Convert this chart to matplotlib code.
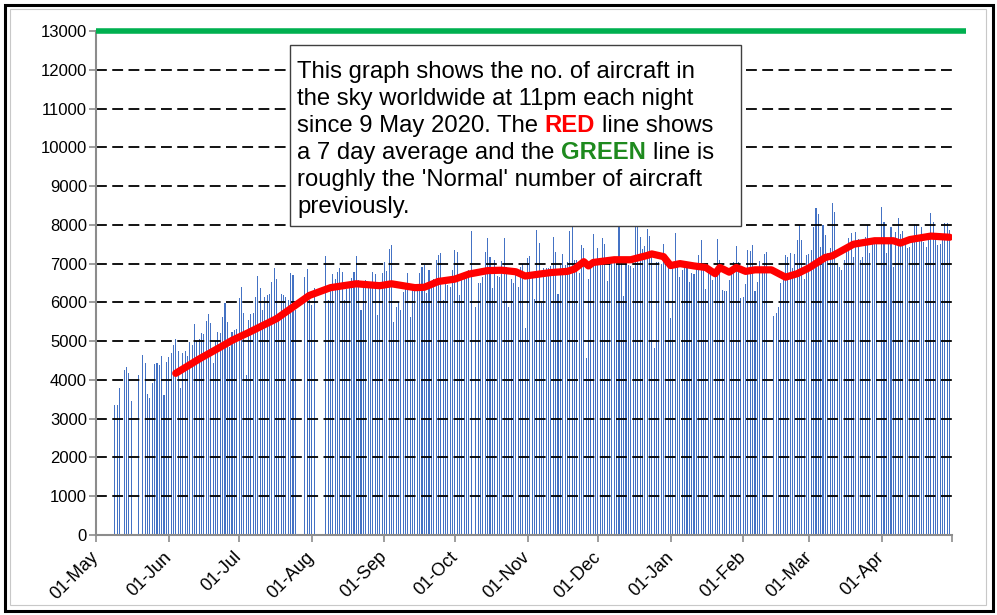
import numpy as np
import pandas as pd
import matplotlib
matplotlib.use('Agg')
import matplotlib.pyplot as plt
from matplotlib.patches import Rectangle

plt.rcParams['font.family'] = ['Liberation Sans', 'DejaVu Sans']

nan = np.nan

# aircraft in the sky at 11pm, one value per day (nan = no reading)
may = [3350, 3350, 3800, nan, 4250, 4330, 4180, 3450, nan, nan, 4130, nan, 4640, 4440, 3640,
       3530, 3920, 4400, 4440, 4390, 4620, 3610, 4460]  # from 9 May
jun = [4590, 4690, 4900, 5050, 4750, 3790, 4690, 4750, 4620, 4980, 4900, 5440, 5000, 5050, 5200,
       5190, 5520, 5700, 5470, 4440, 5000, 5240, 5200, 5620, 5980, 5500, 4850, 5240, 5290, 5310]
jul = [6110, 6400, 5730, 4130, 5550, 5700, 5730, 6140, 6680, 6370, 5800, 6140, 6190, 6220, 6530,
       6890, 6600, 5520, 6220, 6190, 6140, 6060, 6760, 6700, 5800, nan, nan, nan, 6650, 6860, 6060]
aug = [5930, 6370, nan, nan, nan, nan, 7200, 6060, 6420, 6730, 6600, 6780, 6890, 6780, 6060,
       6340, 6370, 6630, 6780, 7200, 6570, 5800, 6370, 6570, 6500, 6530, 6780, 6730, 5670, 6530, 6760]
sep = [7040, 6800, 7380, 7480, 5490, 5880, 6010, 5800, 6270, 6500, 6760, 5620, 6340, 6340, 6400,
       6760, 6910, 6960, 6240, 6830, 6400, 6600, 7090, 7220, 7270, 6060, 6500, 6450, 6400, 6830]
oct_ = [7350, 7300, 6190, 6580, 6630, 6650, 6830, 7840, nan, 5880, 6500, 6500, 6650, 7300, 7660,
        7170, 6370, 7090, 6680, 6650, 7070, 7660, 6900, 5880, 6600, 6500, 6700, 6400, 6900, 6990, 5340]
nov = [7140, 7200, 6760, 6100, 7870, 7530, 5980, 6890, 6890, 6890, 6950, 7690, 7300, 6220, 6960,
       7250, 6960, 7040, 7840, 7940, 7090, 7090, 6760, 7480, 7400, 4570, 6600, 7040, 7760, 7040]
dec = [7400, 7040, 7660, 7500, 6550, 7040, 7040, 7090, 7170, 7940, 7170, 6160, 7040, 6960, 6930,
       6890, 7940, 7940, 7690, 7380, 7450, 7890, 7710, 7200, 4820, 7040, 7040, 7000, 7500, 7150, 6960]
jan = [5600, 7040, 7790, 6910, 6650, 6830, 6960, 7040, 6530, 6760, 6740, 6960, 7220, 7610, 6960,
       6340, 6830, 6760, 6580, 6650, 7630, 7090, 6320, 6300, 6300, 6580, 6830, 7040, 7450, 7040, 6110]
feb = [6130, 6470, 7350, 7330, 7480, 6290, 6530, 7070, 6830, 7250, 7300, nan, nan, 5650,
       5720, 5880, 6500, 6720, 7220, 7180, 7270, 6890, 7250, 7610, 8000, 7610, 6600, 7220]
mar = [7250, 7350, 7940, 8430, 8280, 7430, 8000, 7740, 7270, 7400, 8560, 8330, 6960, 6900, 6830,
       7090, 7300, 7660, 7790, 7170, 7820, 7640, 7090, 7170, 7680, 8000, 7270, 7500, 7500, 7500, nan]
apr = [8460, 8070, 7270, 7640, 7940, 6910, 7820, 8170, 7760, 7840, 7500, 7400, 7430, 7600, 8030,
       8000, 7600, 7940, 7560, 7430, 7600, 8300, 8070, 7600, 7470, 7500, 7600, 8050, 8050, 7870]

# 7 day average (red line)
avg_dates = ['2020-06-04', '2020-06-14', '2020-06-24', '2020-06-28', '2020-07-05', '2020-07-17',
             '2020-07-31', '2020-08-09', '2020-08-20', '2020-08-30', '2020-09-04', '2020-09-14',
             '2020-09-18', '2020-09-24', '2020-10-01', '2020-10-07', '2020-10-15', '2020-10-21',
             '2020-10-27', '2020-10-31', '2020-11-06', '2020-11-11', '2020-11-18', '2020-11-21',
             '2020-11-25', '2020-11-27', '2020-11-29', '2020-12-08', '2020-12-15', '2020-12-22',
             '2020-12-24', '2020-12-29', '2021-01-01', '2021-01-05', '2021-01-11', '2021-01-16',
             '2021-01-20', '2021-01-22', '2021-01-26', '2021-01-29', '2021-02-02', '2021-02-06',
             '2021-02-13', '2021-02-19', '2021-02-24', '2021-03-01', '2021-03-08', '2021-03-11',
             '2021-03-20', '2021-03-29', '2021-04-06', '2021-04-09', '2021-04-13', '2021-04-22',
             '2021-04-30']
avg_values = [4170, 4540, 4880, 5020, 5220, 5580, 6180, 6380, 6480, 6430, 6480, 6380,
              6390, 6540, 6600, 6730, 6820, 6830, 6790, 6680, 6730, 6770, 6800, 6860,
              7050, 6940, 7030, 7100, 7100, 7210, 7250, 7180, 6950, 7000, 6940, 6900,
              6740, 6900, 6780, 6900, 6800, 6840, 6840, 6650, 6740, 6890, 7160, 7200,
              7500, 7590, 7590, 7530, 7620, 7710, 7680]

# roughly the 'normal' number of aircraft (green line)
normal_dates = ['2020-05-01', '2021-05-07']
normal_values = [13000, 13000]

month_starts = pd.date_range('2020-05-01', '2021-05-01', freq='MS')
tick_labels = [d.strftime('%d-%b') for d in month_starts[:-1]] + ['']

days = pd.date_range('2020-05-09', '2021-04-30', freq='D')
counts = np.array(may + jun + jul + aug + sep + oct_ + nov + dec + jan + feb + mar + apr, dtype=float)
ok = ~np.isnan(counts)

W, H = 997, 615
fig = plt.figure(figsize=(W / 100, H / 100), dpi=100)

# figure frames
fig.patches.append(Rectangle((4.5 / W, 4.5 / H), 1 - 9 / W, 1 - 9 / H, transform=fig.transFigure,
                             fill=False, edgecolor='black', linewidth=2.2))
fig.patches.append(Rectangle((9.5 / W, 10.5 / H), 1 - 21 / W, 1 - 19 / H, transform=fig.transFigure,
                             fill=False, edgecolor='#c8c8c8', linewidth=0.8))

ax = fig.add_axes([96 / W, 1 - 535 / H, (952 - 96) / W, (535 - 31) / H])

ax.bar(days[ok], counts[ok], width=0.45, color='#4472C4', linewidth=0, zorder=1)

for v in range(1000, 13000, 1000):
    ax.axhline(v, color='black', linewidth=1.3, dashes=(6, 3), zorder=1.5)

ax.plot(pd.to_datetime(avg_dates), avg_values, color='#FF0000', linewidth=5.2,
        solid_capstyle='round', solid_joinstyle='round', zorder=3)
ax.plot(pd.to_datetime(normal_dates), normal_values, color='#00B050', linewidth=4,
        solid_capstyle='butt', clip_on=False, zorder=4)

ax.set_ylim(0, 13000)
ax.set_yticks(range(0, 13001, 1000))
ax.set_xlim(month_starts[0], month_starts[-1])
ax.set_xticks(month_starts)
ax.set_xticklabels(tick_labels, rotation=45, ha='right', va='center', rotation_mode='anchor')

for s in ['top', 'right']:
    ax.spines[s].set_visible(False)
for s in ['left', 'bottom']:
    ax.spines[s].set_color('#8c8c8c')
    ax.spines[s].set_linewidth(1.5)
ax.tick_params(axis='both', direction='out', length=5, width=1.2, color='#8c8c8c',
               labelcolor='black')
ax.tick_params(axis='y', pad=1.5, labelsize=12)
ax.tick_params(axis='x', pad=9, labelsize=13)

# explanation box
fig.patches.append(Rectangle((290 / W, 1 - 226 / H), 451 / W, 181 / H, transform=fig.transFigure,
                             facecolor='white', edgecolor='#404040', linewidth=1.0, zorder=5))

fs = 17.2
x0 = 297
baselines = [78, 105, 132, 159, 186, 213]
lines = [
    [("This graph shows the no. of aircraft in", 'black', 'normal')],
    [("the sky worldwide at 11pm each night", 'black', 'normal')],
    [("since 9 May 2020. The", 'black', 'normal'), ("RED", '#FF0000', 'bold'),
     ("line shows", 'black', 'normal')],
    [("a 7 day average and the", 'black', 'normal'), ("GREEN", '#1E8A1E', 'bold'),
     ("line is", 'black', 'normal')],
    [("roughly the 'Normal' number of aircraft", 'black', 'normal')],
    [("previously.", 'black', 'normal')],
]

renderer = fig.canvas.get_renderer()
probe1 = fig.text(0, 0, "a a", fontsize=fs)
probe2 = fig.text(0, 0, "aa", fontsize=fs)
space_w = probe1.get_window_extent(renderer).width - probe2.get_window_extent(renderer).width
probe1.remove()
probe2.remove()

for yb, parts in zip(baselines, lines):
    x = x0
    for txt, col, wt in parts:
        t = fig.text(x / W, 1 - yb / H, txt, fontsize=fs, color=col, fontweight=wt,
                     ha='left', va='baseline', zorder=6)
        x += t.get_window_extent(renderer).width + space_w

fig.savefig('out.png', dpi=100)
